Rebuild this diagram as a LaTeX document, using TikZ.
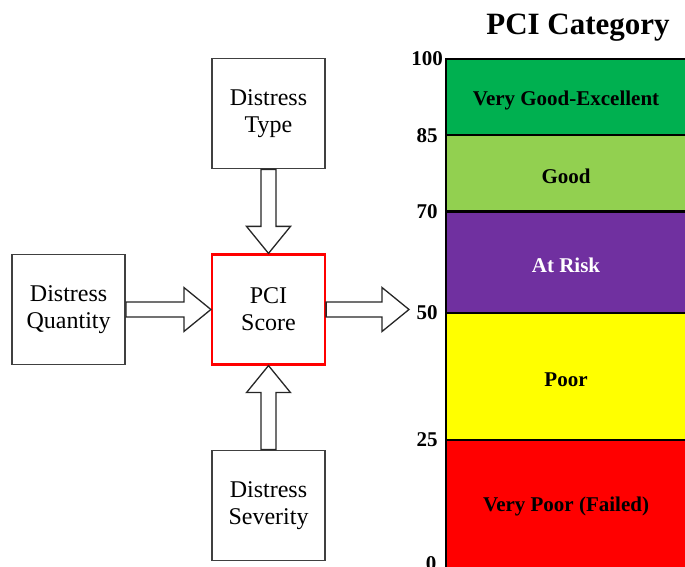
\documentclass[tikz,border=0pt]{standalone}
\usepackage{fontspec}
\setmainfont{Liberation Serif}
\usetikzlibrary{calc,positioning}

\definecolor{pcigreen}{HTML}{00B050}
\definecolor{pcilime}{HTML}{92D050}
\definecolor{pcipurple}{HTML}{7030A0}
\definecolor{pciyellow}{HTML}{FFFF00}
\definecolor{pcired}{HTML}{FF0000}

\tikzset{
  box/.style={draw=black!75, line width=1.6pt, fill=white,
    minimum width=113pt, minimum height=110pt, inner sep=0pt,
    align=center, font=\fontsize{24}{27}\selectfont},
  fatarrow/.style={draw=black!85, line width=1.3pt, fill=white,
    to path={let \p1=($(\tikztotarget)!27pt!(\tikztostart)$) in
      ($(\tikztostart)!7.5pt!90:(\tikztotarget)$)
      -- ($(\p1)!7.5pt!-90:(\tikztostart)$)
      -- ($(\p1)!22pt!-90:(\tikztostart)$)
      -- (\tikztotarget)
      -- ($(\p1)!22pt!90:(\tikztostart)$)
      -- ($(\p1)!7.5pt!90:(\tikztostart)$)
      -- ($(\tikztostart)!7.5pt!-90:(\tikztotarget)$) -- cycle}},
  cat/.style={font=\fontsize{21}{24}\selectfont\bfseries},
  tick/.style={font=\fontsize{21}{24}\selectfont\bfseries}
}

\begin{document}
\begin{tikzpicture}[x=1pt,y=1pt]
  \useasboundingbox (0,0) rectangle (685,567);

  % input boxes round the score
  \node[box, draw=red, line width=2.2pt] (score) at (268.5,257.5) {PCI\\Score};
  \node[box, above=84pt of score] (type) {Distress\\Type};
  \node[box, left=85pt of score] (qty) {Distress\\Quantity};
  \node[box, below=84pt of score] (sev) {Distress\\Severity};
  \coordinate (out) at (409,257.5);

  \draw[fatarrow] (type.south) to (score.north);
  \draw[fatarrow] (qty.east) to (score.west);
  \draw[fatarrow] (sev.north) to (score.south);
  \draw[fatarrow] (score.east) to (out);

  % category scale
  \node[font=\fontsize{31}{34}\selectfont\bfseries] (title) at (578,539) {PCI Category};
  \foreach \lo/\hi/\col/\txt/\tc in {85/100/pcigreen/Very Good-Excellent/black,
      70/85/pcilime/Good/black, 50/70/pcipurple/At Risk/white,
      25/50/pciyellow/Poor/black, 0/25/pcired/Very Poor (Failed)/black}
  {
    \fill[\col] (446,{5.08*\lo}) rectangle (685,{5.08*\hi});
    \node[cat, text=\tc] (band\hi) at (566,{5.08*(\lo+\hi)/2-3}) {\txt};
  }
  \foreach \v in {25,50,70,85,100}
    \draw[line width=2.5pt] (446,{5.08*\v}) -- (685,{5.08*\v});
  \draw[line width=2.5pt] (446,0) -- (446,{5.08*100+1.2});
  \foreach \v in {25,50,70,85,100}
    \node[tick] (lab\v) at (427,{5.08*\v}) {\v};
  \node[tick] (lab0) at (431,3) {0};
\end{tikzpicture}
\end{document}
